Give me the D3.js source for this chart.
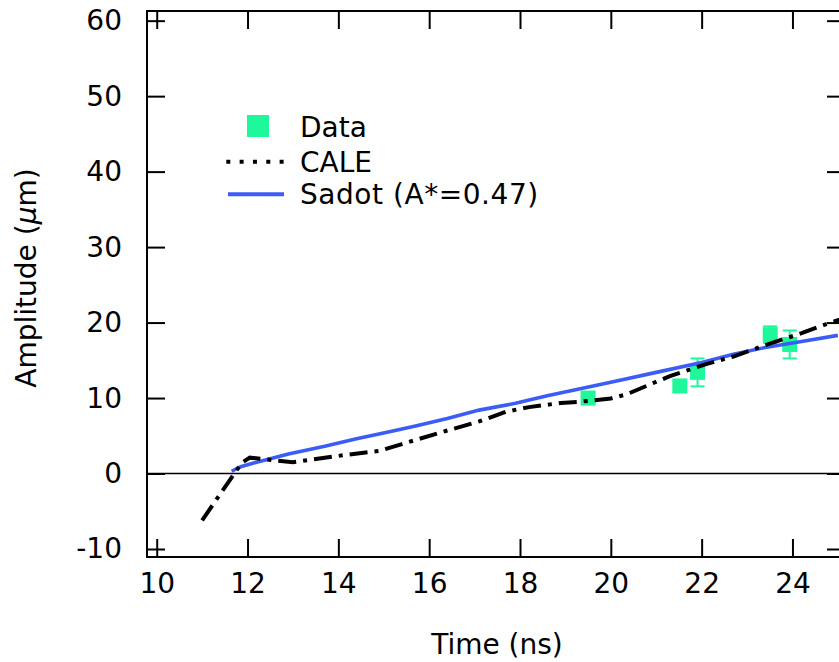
<!DOCTYPE html>
<html>
<head>
<meta charset="utf-8">
<script src="https://cdn.jsdelivr.net/npm/d3@7"></script>
<style>
  html, body { margin: 0; padding: 0; background: #fff; }
  svg { display: block; }
  text { font-family: "DejaVu Sans", sans-serif; fill: #000; }
</style>
</head>
<body>
<svg id="chart" width="839" height="662"></svg>
<script>
// Measured amplitudes (μm) with error bars
const dataTime = [19.50, 21.52, 21.91, 23.51, 23.94];
const dataAmp  = [10.0, 11.6, 13.4, 18.4, 17.1];
const dataErr  = [0.8, 0.8, 1.85, 1.1, 1.85];

// CALE simulation
const caleTime = [11.0, 11.87, 12.05, 13.0, 14.2, 14.9, 15.4, 16.4, 17.1, 17.7, 18.2, 18.9, 19.3, 20.0, 20.35, 20.9, 21.3, 21.8, 22.1, 22.7, 23.4, 24.2, 24.7, 25.1];
const caleAmp  = [-6.2, 1.4, 2.1, 1.5, 2.5, 3.0, 3.9, 5.7, 6.9, 8.2, 8.8, 9.35, 9.5, 9.95, 10.5, 11.9, 12.9, 13.9, 14.5, 15.5, 17.0, 18.6, 19.7, 20.5];

// Sadot model, A* = 0.47
const sadotTime = [11.65, 11.85, 12.2, 12.9, 13.7, 14.4, 15.1, 15.7, 16.4, 17.1, 17.9, 18.6, 19.3, 20.0, 21.0, 22.0, 22.7, 23.4, 24.2, 25.0];
const sadotAmp  = [0.3, 0.9, 1.5, 2.6, 3.6, 4.6, 5.5, 6.3, 7.3, 8.4, 9.3, 10.3, 11.2, 12.1, 13.4, 14.7, 15.8, 16.7, 17.5, 18.3];

const xTicks = [10, 12, 14, 16, 18, 20, 22, 24];
const yTicks = [-10, 0, 10, 20, 30, 40, 50, 60];
const legendLabels = ["Data", "CALE", "Sadot (A*=0.47)"];

const green = "#1ff79b";
const blue = "#3c5df5";

const svg = d3.select("#chart");
const plotL = 147, plotR = 845, plotT = 11, plotB = 557;

const x = d3.scaleLinear().domain([9.786, 25.157]).range([plotL, plotR]);
const y = d3.scaleLinear().domain([-11.06, 61.28]).range([plotB, plotT]);

const tickLen = 18;
const fontSize = 28;
const plainNum = d => String(d);

// zero reference line
svg.append("line")
  .attr("x1", plotL).attr("x2", plotR)
  .attr("y1", y(0)).attr("y2", y(0))
  .attr("stroke", "#000").attr("stroke-width", 1.7);

// axes: inward ticks on all four sides
function styleAxis(g) {
  g.select(".domain").remove();
  g.selectAll(".tick line").attr("stroke", "#000").attr("stroke-width", 2);
  g.selectAll(".tick text").attr("font-size", fontSize).attr("font-family", "DejaVu Sans, sans-serif");
}

svg.append("g")
  .attr("transform", `translate(0,${plotB})`)
  .call(d3.axisBottom(x).tickValues(xTicks).tickSizeInner(-tickLen).tickSizeOuter(0).tickPadding(16).tickFormat(plainNum))
  .call(styleAxis);

svg.append("g")
  .attr("transform", `translate(0,${plotT})`)
  .call(d3.axisTop(x).tickValues(xTicks).tickSizeInner(-tickLen).tickSizeOuter(0).tickFormat(""))
  .call(styleAxis);

svg.append("g")
  .attr("transform", `translate(${plotL},0)`)
  .call(d3.axisLeft(y).tickValues(yTicks).tickSizeInner(-tickLen).tickSizeOuter(0).tickPadding(25).tickFormat(plainNum))
  .call(styleAxis);

svg.append("g")
  .attr("transform", `translate(${plotR},0)`)
  .call(d3.axisRight(y).tickValues(yTicks).tickSizeInner(-tickLen).tickSizeOuter(0).tickFormat(""))
  .call(styleAxis);

// frame
svg.append("rect")
  .attr("x", plotL).attr("y", plotT)
  .attr("width", plotR - plotL).attr("height", plotB - plotT)
  .attr("fill", "none").attr("stroke", "#000").attr("stroke-width", 2);

// data: error bars then squares
const pts = dataTime.map((t, i) => ({ t, a: dataAmp[i], e: dataErr[i] }));
const eb = svg.append("g").attr("stroke", green).attr("stroke-width", 2);
const cap = 7;
pts.forEach(p => {
  eb.append("line").attr("x1", x(p.t)).attr("x2", x(p.t)).attr("y1", y(p.a - p.e)).attr("y2", y(p.a + p.e));
  eb.append("line").attr("x1", x(p.t) - cap).attr("x2", x(p.t) + cap).attr("y1", y(p.a + p.e)).attr("y2", y(p.a + p.e));
  eb.append("line").attr("x1", x(p.t) - cap).attr("x2", x(p.t) + cap).attr("y1", y(p.a - p.e)).attr("y2", y(p.a - p.e));
});
const sq = 15;
svg.append("g").selectAll("rect").data(pts).join("rect")
  .attr("x", d => x(d.t) - sq / 2).attr("y", d => y(d.a) - sq / 2)
  .attr("width", sq).attr("height", sq)
  .attr("fill", green);

// model curves
const line = d3.line().x(d => x(d[0])).y(d => y(d[1]));

svg.append("path")
  .datum(sadotTime.map((t, i) => [t, sadotAmp[i]]))
  .attr("d", line)
  .attr("fill", "none").attr("stroke", blue).attr("stroke-width", 3.6);

svg.append("path")
  .datum(caleTime.map((t, i) => [t, caleAmp[i]]))
  .attr("d", line)
  .attr("fill", "none").attr("stroke", "#000").attr("stroke-width", 4)
  .attr("stroke-dasharray", "18,7,4,7");

// legend
const lg = svg.append("g");
lg.append("rect").attr("x", 247).attr("y", 115).attr("width", 22).attr("height", 22).attr("fill", green);
lg.append("line").attr("x1", 226.3).attr("x2", 284).attr("y1", 161.7).attr("y2", 161.7)
  .attr("stroke", "#000").attr("stroke-width", 4).attr("stroke-dasharray", "4,9.33");
lg.append("line").attr("x1", 228).attr("x2", 284).attr("y1", 194.3).attr("y2", 194.3)
  .attr("stroke", blue).attr("stroke-width", 4);
const lgY = [136.7, 171.5, 204];
const lgSpacing = [0, 0, 0.55];
legendLabels.forEach((s, i) => {
  lg.append("text").attr("x", 300).attr("y", lgY[i]).attr("font-size", fontSize)
    .attr("letter-spacing", lgSpacing[i]).text(s);
});

// axis titles
svg.append("text")
  .attr("x", 497).attr("y", 654)
  .attr("text-anchor", "middle").attr("font-size", fontSize)
  .text("Time (ns)");

const yt = svg.append("text")
  .attr("transform", "translate(36,278) rotate(-90)")
  .attr("text-anchor", "middle").attr("font-size", fontSize);
yt.append("tspan").text("Amplitude (");
yt.append("tspan").attr("font-style", "italic").text("μ");
yt.append("tspan").text("m)");
</script>
</body>
</html>
